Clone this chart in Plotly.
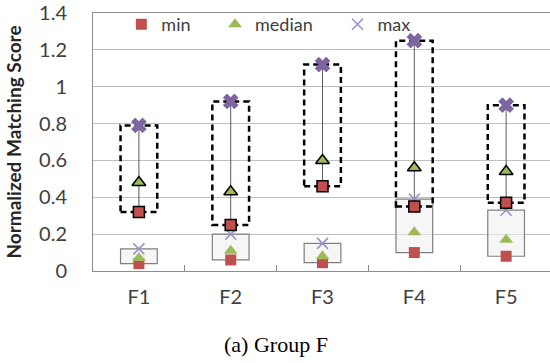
import plotly.graph_objects as go

categories = ["F1", "F2", "F3", "F4", "F5"]
upper_min = [0.32, 0.25, 0.46, 0.35, 0.37]
upper_median = [0.48, 0.43, 0.60, 0.56, 0.54]
upper_max = [0.79, 0.92, 1.12, 1.25, 0.90]
lower_min = [0.04, 0.06, 0.045, 0.10, 0.08]
lower_median = [0.07, 0.11, 0.08, 0.21, 0.17]
lower_max = [0.12, 0.20, 0.15, 0.39, 0.33]
y_ticks = [0, 0.2, 0.4, 0.6, 0.8, 1, 1.2, 1.4]
y_tick_labels = ["0", "0.2", "0.4", "0.6", "0.8", "1", "1.2", "1.4"]
series_names = ["min", "median", "max"]
caption = "(a) Group F"
y_title = "Normalized Matching Score"

RED = "#C0504D"
GREEN = "#9BBB59"
PURPLE = "#8064A2"
LIGHT_PURPLE = "#9B8FCB"
FONT = "Lato"

fig = go.Figure()

# high-low line for upper set
hl_x, hl_y = [], []
for c, lo, hi in zip(categories, upper_min, upper_max):
    hl_x += [c, c, None]
    hl_y += [lo, hi, None]
fig.add_trace(go.Scatter(x=hl_x, y=hl_y, mode="lines",
                         line=dict(color="#5a5a5a", width=1),
                         showlegend=False, hoverinfo="skip"))

# lower set (legend entries)
fig.add_trace(go.Scatter(x=categories, y=lower_min, mode="markers", name=series_names[0],
                         legend="legend",
                         marker=dict(symbol="square", size=11, color=RED, line=dict(width=0))))
fig.add_trace(go.Scatter(x=categories, y=lower_median, mode="markers", name=series_names[1],
                         legend="legend2",
                         marker=dict(symbol="triangle-up", size=12, color=GREEN, line=dict(width=0))))
fig.add_trace(go.Scatter(x=categories, y=lower_max, mode="markers", name=series_names[2],
                         legend="legend3",
                         marker=dict(symbol="x-thin-open", size=11, color=LIGHT_PURPLE,
                                     line=dict(width=1.5, color=LIGHT_PURPLE))))

# upper set (bordered markers)
fig.add_trace(go.Scatter(x=categories, y=upper_min, mode="markers", showlegend=False,
                         marker=dict(symbol="square", size=11, color=RED,
                                     line=dict(width=1.5, color="black"))))
fig.add_trace(go.Scatter(x=categories, y=upper_median, mode="markers", showlegend=False,
                         marker=dict(symbol="triangle-up", size=12, color=GREEN,
                                     line=dict(width=1.5, color="black"))))
fig.add_trace(go.Scatter(x=categories, y=upper_max, mode="markers", showlegend=False,
                         marker=dict(symbol="x", size=13, color=PURPLE,
                                     line=dict(width=0.8, color="#6a5a90"))))

# boxes
for i in range(len(categories)):
    fig.add_shape(type="rect", xref="x", yref="y", layer="between",
                  x0=i - 0.2, x1=i + 0.2, y0=lower_min[i], y1=lower_max[i],
                  line=dict(color="#7f7f7f", width=1.2), fillcolor="rgba(240,240,240,0.6)")
    fig.add_shape(type="rect", xref="x", yref="y", layer="between",
                  x0=i - 0.2, x1=i + 0.2, y0=upper_min[i], y1=upper_max[i],
                  line=dict(color="black", width=2.5, dash="6px,4px"))

fig.add_annotation(text=caption, xref="paper", yref="paper", x=0.40, y=-0.283,
                   xanchor="center", yanchor="middle", showarrow=False,
                   font=dict(family="Liberation Serif", size=22, color="black"))

leg_common = dict(orientation="h", y=0.955, xanchor="left", yanchor="middle",
                  font=dict(size=18, color="#404040", family=FONT),
                  bgcolor="rgba(0,0,0,0)", itemwidth=30)

fig.update_layout(
    width=550, height=363,
    margin=dict(l=93, r=0, t=13, b=92, autoexpand=False),
    paper_bgcolor="white", plot_bgcolor="white",
    font=dict(family=FONT, color="#404040"),
    showlegend=True,
    legend=dict(x=0.062, **leg_common),
    legend2=dict(x=0.267, **leg_common),
    legend3=dict(x=0.535, **leg_common),
    xaxis=dict(type="category", categoryorder="array", categoryarray=categories,
               range=[-0.5, 4.478], tickson="boundaries", ticks="inside", ticklen=6,
               tickcolor="#8c8c8c", showgrid=False, showline=True, linecolor="#8c8c8c",
               linewidth=1, mirror=True, tickfont=dict(size=20, color="#404040"),
               ticklabelstandoff=8, automargin=False),
    yaxis=dict(range=[0, 1.4], tickvals=y_ticks, ticktext=y_tick_labels,
               showgrid=True, gridcolor="#bfbfbf", gridwidth=1, zeroline=False,
               showline=True, linecolor="#8c8c8c", linewidth=1, ticks="",
               tickfont=dict(size=20, color="#404040"), ticklabelstandoff=21,
               automargin=False,
               title=dict(text=y_title, font=dict(size=19, color="#262626", family=FONT),
                          standoff=12)),
)
fig.update_yaxes(title_font_weight="bold")

fig.write_html("out.html", config={"displayModeBar": False},
               post_script="document.body.style.margin='0px';document.body.style.overflow='hidden';")
